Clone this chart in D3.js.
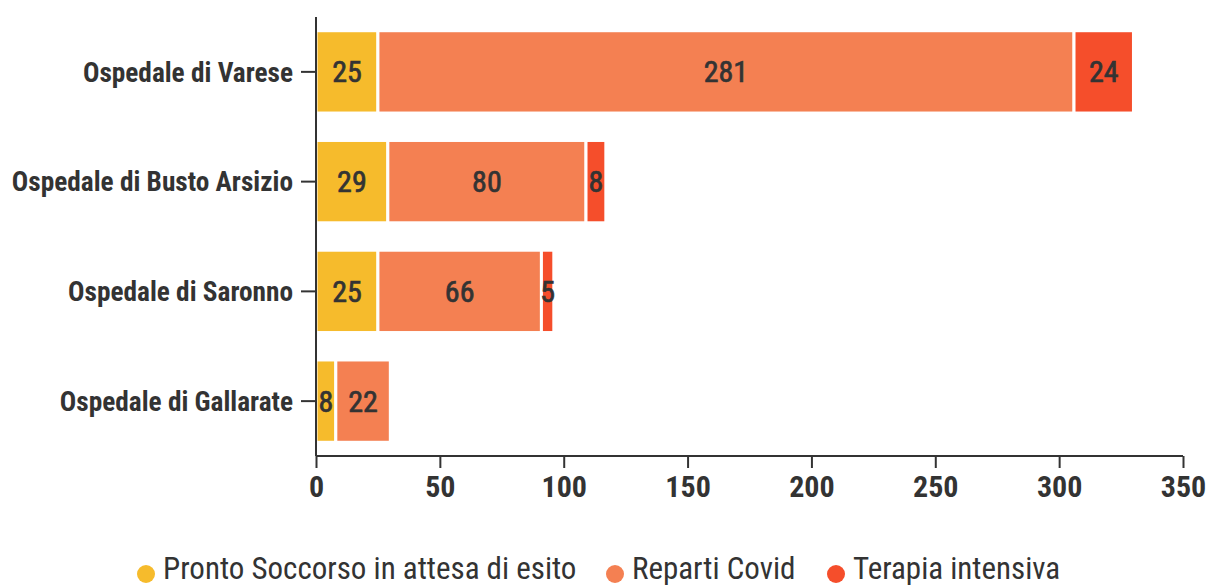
<!DOCTYPE html>
<html><head><meta charset="utf-8">
<script src="https://cdn.jsdelivr.net/npm/d3@7"></script>
<style>
body{margin:0;background:#fff;}
text{font-family:"Roboto Condensed","Liberation Sans Narrow",Roboto,sans-serif;fill:#333;}
</style></head><body>
<svg id="c" width="1209" height="586"></svg>
<script>
const categories = ["Ospedale di Varese","Ospedale di Busto Arsizio","Ospedale di Saronno","Ospedale di Gallarate"];
const seriesNames = ["Pronto Soccorso in attesa di esito","Reparti Covid","Terapia intensiva"];
const prontoSoccorso = [25,29,25,8];
const repartiCovid = [281,80,66,22];
const terapiaIntensiva = [24,8,5,0];
const colors = ["#F6BB2C","#F48052","#F54E2B"];
const xTicks = [0,50,100,150,200,250,300,350];

const svg = d3.select("#c");
const m = {l:316, r:1183, t:17, b:456};
const x = d3.scaleLinear().domain([0,350]).range([m.l, m.r]);
const y = d3.scaleBand().domain(categories).range([m.t, m.b]).paddingInner(0.25).paddingOuter(0.125);

const rows = categories.map((c,i)=>({cat:c, v:[prontoSoccorso[i], repartiCovid[i], terapiaIntensiva[i]]}));
const stack = d3.stack().keys([0,1,2]).value((d,k)=>d.v[k]);
const layers = stack(rows);

const g = svg.append("g");
layers.forEach((layer,k)=>{
  const lg = g.append("g");
  layer.forEach((s,i)=>{
    const val = rows[i].v[k];
    if(!val) return;
    lg.append("rect")
      .attr("x", x(s[0])).attr("y", y(rows[i].cat))
      .attr("width", x(s[1])-x(s[0])).attr("height", y.bandwidth())
      .attr("fill", colors[k]).attr("stroke","#fff").attr("stroke-width",3);
  });
});
layers.forEach((layer,k)=>{
  layer.forEach((s,i)=>{
    const val = rows[i].v[k];
    if(!val) return;
    g.append("text")
      .attr("x", (x(s[0])+x(s[1]))/2).attr("y", y(rows[i].cat)+y.bandwidth()/2)
      .attr("text-anchor","middle").attr("dominant-baseline","central")
      .style("font-size","30px").style("font-weight","400")
      .attr("stroke","#333").attr("stroke-width",0.7)
      .text(val);
  });
});

// y axis
const ya = svg.append("g").attr("transform",`translate(${m.l},0)`)
  .call(d3.axisLeft(y).tickSize(15).tickPadding(8));
ya.select(".domain").attr("stroke","#333").attr("stroke-width",2).attr("d",`M0,${m.t}V${m.b}`);
ya.selectAll(".tick line").attr("stroke","#333").attr("stroke-width",2);
ya.selectAll(".tick text").style("font-size","27.3px").style("font-weight","700").attr("fill","#333").attr("dy","0.36em");

// x axis
const xa = svg.append("g").attr("transform",`translate(0,${m.b})`)
  .call(d3.axisBottom(x).tickValues(xTicks).tickSize(12).tickPadding(8));
xa.select(".domain").attr("stroke","#333").attr("stroke-width",2).attr("d",`M${m.l},0H${m.r}`);
xa.selectAll(".tick line").attr("stroke","#333").attr("stroke-width",2);
xa.selectAll(".tick text").style("font-size","30px").style("font-weight","700").attr("fill","#333");

// legend
const legX = [146, 615, 836];
const lg = svg.append("g");
seriesNames.forEach((n,k)=>{
  lg.append("circle").attr("cx",legX[k]).attr("cy",574).attr("r",9).attr("fill",colors[k]);
  lg.append("text").attr("x",legX[k]+17).attr("y",579)
    .style("font-size","31px").text(n);
});
</script></body></html>
